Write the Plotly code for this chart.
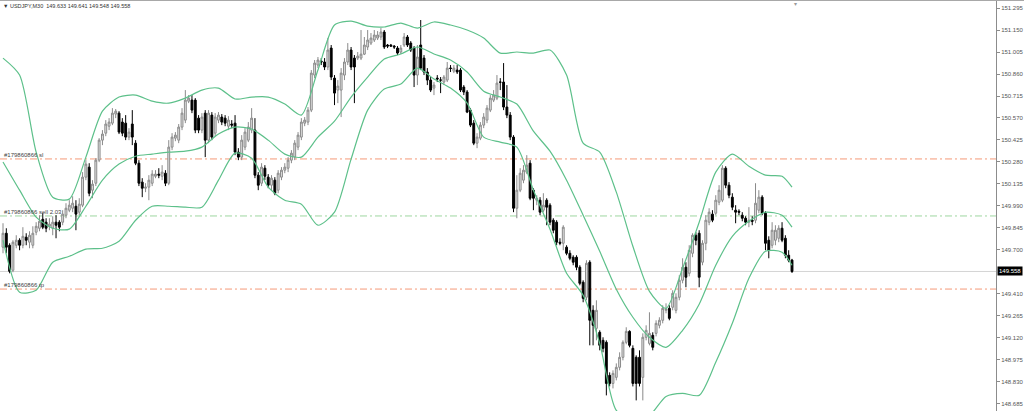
import plotly.graph_objects as go

# ---------------- data (USDJPY M30) ----------------
opens = [
149.718,149.810,149.731,149.566,149.731,149.764,149.731,149.784,149.751,149.731,
149.817,149.843,149.902,149.883,149.856,149.843,149.883,149.883,149.883,149.929,
149.962,149.975,149.988,149.949,149.995,150.180,150.246,150.094,150.140,150.292,
150.424,150.470,150.516,150.536,150.596,150.602,150.543,150.536,150.444,150.530,
150.404,150.272,150.147,150.107,150.114,150.140,150.186,150.200,150.186,150.206,
150.140,150.378,150.437,150.424,150.510,150.556,150.681,150.688,150.688,150.569,
150.490,150.602,150.424,150.589,150.470,150.556,150.576,150.569,150.516,150.530,
150.536,150.345,150.312,150.378,150.424,150.490,150.490,150.193,150.140,150.239,
150.180,150.127,150.160,150.094,150.180,150.226,150.239,150.292,150.312,150.378,
150.444,150.536,150.543,150.622,150.853,150.919,150.945,150.939,150.906,151.031,
150.833,150.754,150.754,150.853,150.939,151.018,150.965,150.965,150.965,150.991,
151.038,151.064,151.084,151.097,151.104,151.137,151.051,151.051,151.044,151.031,
151.005,151.051,151.104,151.064,151.031,150.853,151.051,150.965,150.873,150.820,
150.767,150.833,150.820,150.807,150.820,150.899,150.879,150.886,150.886,150.774,
150.741,150.622,150.536,150.404,150.437,150.523,150.556,150.622,150.688,150.701,
150.807,150.807,150.642,150.589,150.444,149.975,150.094,150.160,150.213,150.272,
150.094,150.028,150.028,149.962,150.028,149.995,149.896,149.883,149.751,149.744,
149.718,149.678,149.652,149.652,149.586,149.487,149.388,149.619,149.302,149.183,
149.157,149.104,149.091,148.873,148.820,148.860,148.926,148.992,149.091,149.163,
149.051,148.992,148.992,148.860,149.124,149.084,149.137,149.150,149.203,149.236,
149.302,149.315,149.322,149.302,149.388,149.500,149.586,149.546,149.678,149.797,
149.810,149.619,149.744,149.883,149.936,149.942,150.015,150.028,150.239,150.127,
150.048,149.962,149.955,149.929,149.909,149.883,149.896,149.896,149.962,150.048,
149.942,149.764,149.731,149.764,149.777,149.843,149.777,149.665,149.633]

highs = [
149.876,149.843,149.744,149.764,149.797,149.777,149.850,149.810,149.823,149.856,
149.883,149.929,149.942,149.909,149.909,149.922,149.929,149.896,149.962,150.008,
150.028,150.054,150.028,150.041,150.213,150.292,150.272,150.160,150.305,150.437,
150.490,150.556,150.569,150.635,150.629,150.615,150.569,150.589,150.503,150.622,
150.424,150.292,150.173,150.140,150.193,150.226,150.226,150.239,150.259,150.226,
150.424,150.470,150.477,150.530,150.635,150.754,150.721,150.721,150.701,150.589,
150.602,150.622,150.622,150.609,150.602,150.609,150.596,150.589,150.582,150.556,
150.589,150.371,150.457,150.503,150.543,150.635,150.569,150.213,150.272,150.259,
150.200,150.193,150.180,150.226,150.246,150.272,150.312,150.358,150.424,150.477,
150.569,150.576,150.642,150.886,150.952,150.972,150.965,150.965,151.097,151.051,
150.853,150.820,150.899,150.965,151.064,151.038,150.985,151.005,151.150,151.104,
151.150,151.130,151.150,151.143,151.163,151.150,151.058,151.058,151.051,151.044,
151.051,151.130,151.117,151.077,151.044,151.051,151.216,150.985,150.899,150.840,
150.807,150.853,150.840,150.853,150.939,150.919,150.919,150.919,150.899,150.787,
150.754,150.635,150.556,150.470,150.543,150.602,150.655,150.721,150.754,150.853,
150.833,150.932,150.787,150.609,150.457,150.193,150.239,150.259,150.325,150.292,
150.107,150.061,150.048,150.074,150.041,150.008,149.909,149.896,149.777,149.863,
149.731,149.698,149.665,149.665,149.599,149.500,149.632,149.632,149.335,149.368,
149.170,149.124,149.104,148.893,148.906,148.952,149.025,149.104,149.190,149.170,
149.071,149.005,149.038,149.150,149.203,149.289,149.157,149.236,149.256,149.335,
149.348,149.335,149.434,149.414,149.533,149.645,149.619,149.731,149.810,149.817,
149.830,149.764,149.929,149.975,149.962,150.061,150.127,150.259,150.252,150.147,
150.074,149.995,149.968,149.949,149.922,149.982,149.922,150.140,150.094,150.061,
149.955,149.790,149.883,149.863,149.863,149.883,149.797,149.698,149.641]

lows = [
149.678,149.678,149.546,149.553,149.711,149.698,149.711,149.731,149.711,149.711,
149.797,149.823,149.837,149.817,149.830,149.797,149.777,149.823,149.863,149.909,
149.949,149.949,149.830,149.929,149.982,150.160,150.054,150.041,150.121,150.279,
150.391,150.450,150.490,150.523,150.569,150.464,150.450,150.424,150.424,150.391,
150.259,150.121,150.048,150.081,150.028,150.121,150.173,150.173,150.160,150.121,
150.127,150.358,150.417,150.404,150.490,150.536,150.668,150.602,150.470,150.470,
150.470,150.312,150.404,150.424,150.450,150.536,150.523,150.516,150.490,150.503,
150.325,150.292,150.292,150.358,150.411,150.470,150.173,150.094,150.121,150.160,
150.107,150.094,150.061,150.074,150.160,150.206,150.213,150.272,150.292,150.358,
150.424,150.516,150.523,150.609,150.833,150.899,150.919,150.886,150.886,150.820,
150.655,150.668,150.576,150.820,150.919,150.886,150.668,150.952,150.952,150.985,
151.018,151.051,151.071,151.084,151.084,151.025,151.031,151.038,151.025,150.985,
150.992,151.038,151.038,151.005,150.774,150.787,150.886,150.853,150.787,150.741,
150.721,150.807,150.734,150.787,150.807,150.873,150.866,150.860,150.741,150.721,
150.602,150.510,150.391,150.371,150.424,150.503,150.536,150.609,150.675,150.688,
150.754,150.622,150.569,150.424,149.949,149.909,150.081,150.140,150.200,150.028,
149.962,149.995,149.929,149.949,149.863,149.863,149.810,149.731,149.731,149.698,
149.665,149.632,149.599,149.566,149.467,149.355,149.368,149.071,149.071,149.104,
149.038,149.025,148.741,148.800,148.787,148.840,148.906,148.972,149.078,149.058,
148.800,148.708,148.800,148.708,149.104,149.071,149.038,149.130,149.183,149.216,
149.282,149.236,149.302,149.282,149.368,149.480,149.454,149.526,149.652,149.731,
149.454,149.599,149.698,149.863,149.883,149.929,149.995,150.015,150.107,150.041,
149.962,149.876,149.929,149.889,149.863,149.850,149.863,149.876,149.942,149.929,
149.698,149.645,149.711,149.731,149.751,149.751,149.645,149.619,149.548]

closes = [
149.810,149.718,149.559,149.751,149.764,149.731,149.790,149.764,149.797,149.810,
149.856,149.889,149.850,149.843,149.870,149.883,149.863,149.850,149.936,149.975,
149.995,150.008,149.936,150.002,150.180,150.266,150.074,150.134,150.292,150.424,
150.464,150.530,150.543,150.602,150.615,150.477,150.470,150.444,150.477,150.444,
150.272,150.140,150.107,150.114,150.160,150.200,150.200,150.193,150.213,150.140,
150.378,150.444,150.457,150.510,150.602,150.688,150.701,150.622,150.490,150.490,
150.576,150.424,150.602,150.444,150.576,150.589,150.543,150.536,150.556,150.523,
150.345,150.312,150.424,150.477,150.510,150.569,150.193,150.127,150.246,150.186,
150.127,150.173,150.074,150.206,150.226,150.246,150.292,150.338,150.404,150.457,
150.543,150.556,150.622,150.866,150.932,150.952,150.939,150.906,151.018,150.840,
150.734,150.780,150.866,150.939,151.018,150.906,150.906,150.978,150.991,151.051,
151.084,151.097,151.117,151.117,151.137,151.038,151.044,151.044,151.038,150.998,
151.031,151.104,151.051,151.018,150.853,150.972,150.899,150.873,150.820,150.754,
150.787,150.827,150.820,150.840,150.899,150.897,150.899,150.873,150.754,150.741,
150.609,150.523,150.404,150.444,150.523,150.576,150.635,150.701,150.721,150.800,
150.806,150.642,150.589,150.444,149.975,150.094,150.206,150.226,150.259,150.041,
150.041,150.041,149.949,149.995,149.982,149.883,149.830,149.751,149.744,149.850,
149.678,149.645,149.619,149.586,149.480,149.381,149.612,149.236,149.203,149.302,
149.071,149.051,148.820,148.820,148.886,148.926,148.992,149.091,149.163,149.071,
148.820,148.820,148.820,149.124,149.170,149.150,149.058,149.216,149.236,149.315,
149.309,149.249,149.414,149.388,149.500,149.586,149.520,149.698,149.797,149.764,
149.520,149.744,149.896,149.949,149.896,150.028,150.094,150.239,150.127,150.061,
149.982,149.949,149.949,149.909,149.883,149.896,149.889,150.008,150.048,149.942,
149.744,149.698,149.830,149.830,149.843,149.764,149.665,149.632,149.558]

band_bars = [0,5,10,15,20,25,30,35,40,45,50,55,60,65,70,75,80,85,90,95,
             100,105,110,115,120,125,130,135,140,145,150,155,160,165,170,175,
             180,185,190,195,200,205,210,215,220,225,230,235,238]
bb_upper = [150.965,150.853,150.345,150.048,150.035,150.312,150.615,150.708,150.721,150.681,
            150.668,150.701,150.754,150.767,150.695,150.708,150.708,150.662,150.589,150.886,
            151.183,151.209,151.176,151.170,151.196,151.163,151.203,151.183,151.150,151.097,
            150.998,151.005,150.998,151.018,150.853,150.404,150.345,150.081,149.724,149.427,
            149.315,149.579,149.883,150.213,150.332,150.252,150.193,150.186,150.114]
bb_middle = [150.280,150.094,149.916,149.843,149.837,149.988,150.160,150.266,150.318,150.332,
             150.345,150.351,150.378,150.464,150.510,150.497,150.424,150.332,150.312,150.444,
             150.549,150.708,150.840,150.959,150.992,151.038,150.992,150.952,150.873,150.747,
             150.708,150.662,150.483,150.351,150.160,149.929,149.691,149.441,149.256,149.124,
             149.058,149.170,149.342,149.599,149.790,149.889,149.949,149.929,149.850]
bb_lower = [149.764,149.421,149.434,149.619,149.658,149.705,149.711,149.757,149.896,149.988,
            149.988,149.982,149.982,150.160,150.338,150.305,150.114,150.028,150.002,149.863,
            149.949,150.299,150.622,150.761,150.794,150.899,150.827,150.767,150.668,150.444,
            150.411,150.378,150.094,149.837,149.546,149.401,149.084,148.642,148.589,148.609,
            148.734,148.754,148.741,148.959,149.216,149.513,149.691,149.685,149.599]

# order levels
order_id = "#179860866"
level_sl = 150.300
level_open = 149.924
level_tp = 149.442
lot_text = "sell 2.03"
last_price = 149.558

# price axis ticks
tick_values = [151.295,151.150,151.005,150.860,150.715,150.570,150.425,150.280,150.135,
               149.990,149.845,149.700,149.410,149.265,149.120,148.975,148.830,148.685]
header = "USDJPY,M30  149.633 149.641 149.548 149.558"

# --------------------------------------------------
n = len(closes)
assert len(opens) == n and len(highs) == n and len(lows) == n, (len(opens), len(highs), len(lows), n)
assert len(band_bars) == len(bb_upper) == len(bb_middle) == len(bb_lower)
bars = list(range(n))

FONT = "Liberation Sans"
BAND = "#5dc08a"

fig = go.Figure()
for band in (bb_upper, bb_middle, bb_lower):
    fig.add_trace(go.Scatter(x=band_bars, y=band, mode="lines",
                             line=dict(color=BAND, width=1.2, shape="spline", smoothing=0.7),
                             hoverinfo="skip"))
fig.add_trace(go.Candlestick(
    x=bars, open=opens, high=highs, low=lows, close=closes,
    increasing=dict(line=dict(color="#8a8a8a", width=1), fillcolor="#e4e4e4"),
    decreasing=dict(line=dict(color="#000000", width=1), fillcolor="#000000"),
    whiskerwidth=0,
))

plot_w = 1024 - 28
px_per_bar = (792 - 3) / (n - 1)
x0 = -3 / px_per_bar
x1 = x0 + plot_w / px_per_bar

shapes = []
dash = "7px,3px,2px,3px"
for lvl, col in ((level_sl, "#f59a78"), (level_tp, "#f59a78"), (level_open, "#9fd6a0")):
    shapes.append(dict(type="line", xref="paper", x0=0, x1=1, yref="y", y0=lvl, y1=lvl,
                       line=dict(color=col, width=1, dash=dash), layer="below"))
shapes.append(dict(type="line", xref="paper", x0=0, x1=1, yref="y", y0=last_price, y1=last_price,
                   line=dict(color="#d4d4d4", width=1), layer="below"))
shapes.append(dict(type="line", xref="paper", x0=0, x1=1024 / plot_w, yref="paper", y0=1, y1=1,
                   line=dict(color="#a8a8a8", width=2)))

ann = []
for lvl, txt in ((level_sl, order_id + " sl"), (level_open, order_id + " " + lot_text),
                 (level_tp, order_id + " tp")):
    ann.append(dict(xref="paper", x=0, xshift=2, xanchor="left", yref="y", y=lvl,
                    yanchor="bottom", yshift=-1, text=txt, showarrow=False,
                    font=dict(family=FONT, size=6, color="#444444")))
ann.append(dict(xref="paper", x=0, xshift=1, xanchor="left", yref="paper", y=1, yanchor="top",
                yshift=-1, text="\u25bc " + header, showarrow=False,
                font=dict(family=FONT, size=5.5, color="#333333")))
ann.append(dict(xref="paper", x=1, xshift=1, xanchor="left", yref="y", y=last_price,
                text=f"{last_price:.3f}", showarrow=False, bgcolor="#000000", borderpad=1,
                font=dict(family=FONT, size=6, color="#ffffff")))
ann.append(dict(xref="paper", x=795 / plot_w, xanchor="center", yref="paper", y=1,
                yanchor="top", yshift=1, text="\u25be", showarrow=False,
                font=dict(family=FONT, size=6, color="#9a9a9a")))

fig.update_layout(
    width=1024, height=411,
    margin=dict(l=0, r=28, t=0, b=0),
    paper_bgcolor="white", plot_bgcolor="white",
    showlegend=False, boxgap=0.2,
    xaxis=dict(visible=False, range=[x0, x1], rangeslider=dict(visible=False)),
    yaxis=dict(side="right", range=[148.638, 151.348], tickvals=tick_values,
               ticktext=[f"{v:.3f}" for v in tick_values],
               showgrid=False, zeroline=False, showline=True, linecolor="#8c8c8c", linewidth=1,
               ticks="outside", ticklen=3, tickcolor="#8c8c8c",
               tickfont=dict(family=FONT, size=6, color="#555555")),
    shapes=shapes, annotations=ann,
)

fig.write_html("out.html", config={"displayModeBar": False},
               post_script="document.body.style.margin='0';")
